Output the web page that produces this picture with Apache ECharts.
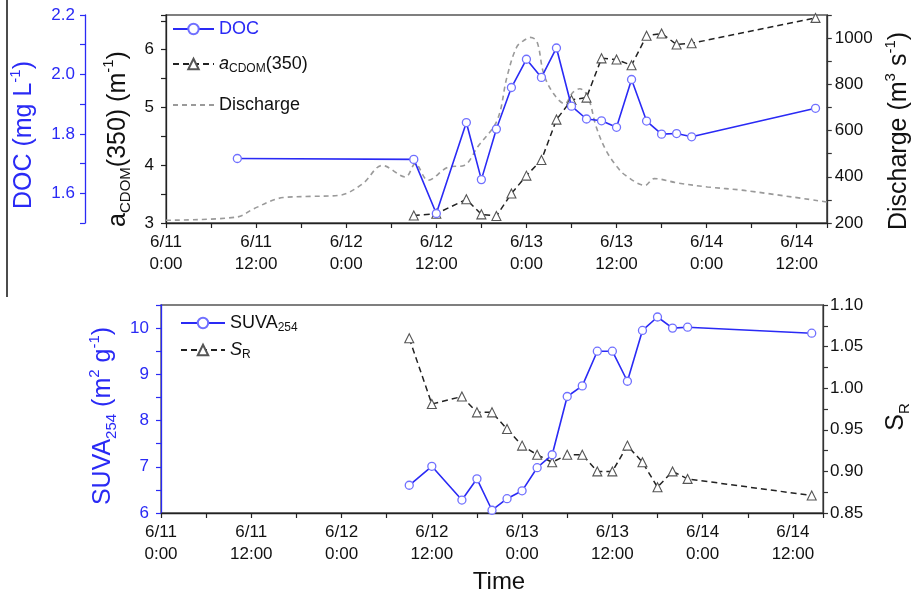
<!DOCTYPE html>
<html><head><meta charset="utf-8">
<script src="https://cdn.jsdelivr.net/npm/echarts@6/dist/echarts.min.js"></script>
<style>html,body{margin:0;padding:0;background:#fff}#c{width:920px;height:597px}</style>
</head><body><div id="c"></div>
<script>
// Time in hours since 6/11 0:00
const docHours = [9.5, 33, 36, 40, 42, 44, 46, 48, 50, 52, 54, 56, 58, 60, 62, 64, 66, 68, 70, 86.5];
const docValues = [1.717, 1.714, 1.532, 1.838, 1.646, 1.816, 1.956, 2.051, 1.990, 2.089, 1.893, 1.850, 1.844, 1.822, 1.983, 1.843, 1.799, 1.801, 1.790, 1.886];
const sampleHours = [33, 36, 40, 42, 44, 46, 48, 50, 52, 54, 56, 58, 60, 62, 64, 66, 68, 70, 86.5];
const acdomValues = [3.13, 3.16, 3.41, 3.15, 3.12, 3.51, 3.82, 4.09, 4.79, 5.13, 5.17, 5.85, 5.83, 5.73, 6.24, 6.28, 6.09, 6.11, 6.55];
const dischargeHours = [0, 9.5, 11.7, 15.6, 19.2, 23.1, 26.2, 28.8, 31.9, 33.2, 34.9, 37.6, 39.7, 41.5, 44.1, 45.4, 46.7, 47.8, 48.5, 49.4, 50.3, 51.6, 53.1, 54.2, 55.1, 56.2, 57.3, 58.6, 60.1, 61.2, 63.8, 65, 68.2, 72.1, 77, 88];
const dischargeValues = [212, 226, 262, 310, 315, 320, 370, 449, 399, 457, 385, 442, 449, 529, 644, 831, 961, 993, 1003, 985, 846, 760, 716, 766, 781, 745, 615, 514, 442, 406, 363, 392, 373, 356, 341, 291];
const suvaHours = [33, 36, 40, 42, 44, 46, 48, 50, 52, 54, 56, 58, 60, 62, 64, 66, 68, 70, 86.5];
const suvaValues = [6.60, 7.01, 6.28, 6.74, 6.06, 6.31, 6.48, 6.98, 7.26, 8.52, 8.75, 9.50, 9.50, 8.85, 9.95, 10.24, 10.00, 10.02, 9.89];
const srValues = [1.060, 0.981, 0.990, 0.971, 0.971, 0.951, 0.931, 0.920, 0.911, 0.920, 0.920, 0.900, 0.900, 0.931, 0.911, 0.881, 0.900, 0.891, 0.871];

const BLUE = '#2a2af5';
const BLUE_MK = '#7070ff';
const FONT = 'Liberation Sans, Arial, sans-serif';
const zip = (a, b) => a.map((v, i) => [v, b[i]]);

function xLabel(v) {
  const r = Math.round(v);
  if (r % 12 !== 0 || r > 84) return '';
  return '6/' + (11 + Math.floor(r / 24)) + '\n' + (r % 24) + ':00';
}
const nameRich = {
  t: { fontSize: 25, lineHeight: 32, fontFamily: FONT },
  sup: { fontSize: 15, lineHeight: 15, verticalAlign: 'top', fontFamily: FONT },
  sub: { fontSize: 15, lineHeight: 15, verticalAlign: 'bottom', fontFamily: FONT }
};
const legRich = {
  t: { fontSize: 18, lineHeight: 22, fontFamily: FONT },
  i: { fontSize: 18, lineHeight: 22, fontStyle: 'italic', fontFamily: FONT },
  sub: { fontSize: 12, lineHeight: 12, verticalAlign: 'bottom', fontFamily: FONT }
};
const legendNames = {
  'DOC': '{t|DOC}',
  'aCDOM': '{i|a}{sub|CDOM}{t|(350)}',
  'Discharge': '{t|Discharge}',
  'SUVA': '{t|SUVA}{sub|254}',
  'SR': '{i|S}{sub|R}'
};
function makeLegend(item, left, top, color, w) {
  return {
    data: [item], left: left, top: top, padding: 0, orient: 'vertical',
    itemWidth: w, itemHeight: 13, selectedMode: false,
    formatter: n => legendNames[n],
    textStyle: { color: color, fontSize: 18, fontFamily: FONT, rich: legRich }
  };
}
const axisCommon = (color) => ({
  type: 'value',
  axisLine: { show: true, lineStyle: { color: color, width: 1.3 } },
  axisTick: { show: true, length: 5, lineStyle: { color: color, width: 1.2 } },
  splitLine: { show: false },
  axisLabel: { color: color, fontSize: 17, fontFamily: FONT }
});

const chart = echarts.init(document.getElementById('c'), null, { renderer: 'canvas' });
chart.setOption({
  animation: false,
  backgroundColor: '#fff',
  graphic: [
    { type: 'line', shape: { x1: 7, y1: 0, x2: 7, y2: 297 }, style: { stroke: '#111', lineWidth: 1.5 } },
    { type: 'text', x: 499, y: 582, style: { text: 'Time', fontSize: 24, fontFamily: FONT, fill: '#111', align: 'center', verticalAlign: 'middle' } }
  ],
  grid: [
    { left: 161, top: 15, width: 670, height: 208, show: true, borderColor: '#555', borderWidth: 1.3, backgroundColor: 'transparent' },
    { left: 161, top: 305, width: 670, height: 208, show: true, borderColor: '#555', borderWidth: 1.3, backgroundColor: 'transparent' }
  ],
  legend: [
    makeLegend('DOC', 172, 20, BLUE, 41),
    makeLegend('aCDOM', 172, 55, '#111', 41),
    makeLegend({ name: 'Discharge', itemStyle: { color: 'rgba(0,0,0,0)', borderColor: 'rgba(0,0,0,0)', borderWidth: 0 } }, 172, 96, '#111', 41),
    makeLegend('SUVA', 180, 314, '#111', 44),
    makeLegend('SR', 180, 341, '#111', 44)
  ],
  xAxis: [0, 1].map(g => Object.assign(axisCommon('#222'), {
    gridIndex: g, min: 0, max: 88, interval: 6,
    axisLabel: { color: '#111', fontSize: 17, fontFamily: FONT, lineHeight: 22, margin: 8, formatter: xLabel }
  })),
  yAxis: [
    Object.assign(axisCommon('#222'), {
      gridIndex: 0, position: 'left', min: 3, max: 6.6, interval: 0.5,
      axisLabel: { color: '#111', fontSize: 17, fontFamily: FONT, margin: 12, formatter: v => (Math.abs(v - Math.round(v)) < 1e-6 ? String(Math.round(v)) : '') },
      name: '{t|a}{sub|CDOM}{t|(350) (m}{sup|-1}{t|)}', nameLocation: 'middle', nameGap: 30,
      nameTextStyle: { color: '#111', rich: nameRich, padding: [0, 40, 0, 0] }
    }),
    Object.assign(axisCommon('#333'), {
      gridIndex: 0, position: 'right', min: 200, max: 1100, interval: 100,
      axisLabel: { color: '#111', fontSize: 17, fontFamily: FONT, margin: 8, formatter: v => (Math.round(v) % 200 === 0 ? String(Math.round(v)) : '') },
      name: '{t|Discharge (m}{sup|3}{t| s}{sup|-1}{t|)}', nameLocation: 'middle', nameGap: 56, nameRotate: 90,
      nameTextStyle: { color: '#111', rich: nameRich, padding: [0, 24, 0, 0] }
    }),
    Object.assign(axisCommon(BLUE), {
      gridIndex: 0, position: 'left', offset: 81, min: 1.5, max: 2.2, interval: 0.1,
      axisLabel: { color: BLUE, fontSize: 17, fontFamily: FONT, margin: 10, formatter: v => (Math.round(v * 10) % 2 === 0 && v > 1.55 ? v.toFixed(1) : '') },
      name: '{t|DOC (mg L}{sup|-1}{t|)}', nameLocation: 'middle', nameGap: 45,
      nameTextStyle: { color: BLUE, rich: nameRich, padding: [0, 32, 0, 0] }
    }),
    Object.assign(axisCommon(BLUE), {
      gridIndex: 1, position: 'left', min: 6, max: 10.5, interval: 0.5,
      axisLabel: { color: BLUE, fontSize: 17, fontFamily: FONT, margin: 12, formatter: v => (Math.abs(v - Math.round(v)) < 1e-6 ? String(Math.round(v)) : '') },
      name: '{t|SUVA}{sub|254}{t| (m}{sup|2}{t| g}{sup|-1}{t|)}', nameLocation: 'middle', nameGap: 40,
      nameTextStyle: { color: BLUE, rich: nameRich, padding: [0, 14, 0, 0] }
    }),
    Object.assign(axisCommon('#333'), {
      gridIndex: 1, position: 'right', min: 0.85, max: 1.10, interval: 0.025,
      axisLabel: { color: '#111', fontSize: 17, fontFamily: FONT, margin: 7, formatter: v => (Math.round(v * 1000) % 50 === 0 ? v.toFixed(2) : '') },
      name: '{t|S}{sub|R}', nameLocation: 'middle', nameGap: 57, nameRotate: 90,
      nameTextStyle: { color: '#111', rich: nameRich, padding: [0, 16, 0, 0] }
    })
  ],
  series: [
    { name: 'Discharge', type: 'line', xAxisIndex: 0, yAxisIndex: 1, data: zip(dischargeHours, dischargeValues),
      smooth: 0.35, symbol: 'none', lineStyle: { color: '#9a9a9a', width: 1.6, type: [5, 4] }, itemStyle: { color: '#9a9a9a' }, z: 2 },
    { name: 'aCDOM', type: 'line', xAxisIndex: 0, yAxisIndex: 0, data: zip(sampleHours, acdomValues),
      symbol: 'triangle', symbolSize: 9, lineStyle: { color: '#222', width: 1.5, type: [6, 4] },
      itemStyle: { color: '#fff', borderColor: '#555', borderWidth: 1.1 }, z: 3 },
    { name: 'DOC', type: 'line', xAxisIndex: 0, yAxisIndex: 2, data: zip(docHours, docValues),
      symbol: 'circle', symbolSize: 8, lineStyle: { color: BLUE, width: 1.6 },
      itemStyle: { color: '#fff', borderColor: BLUE_MK, borderWidth: 1.3 }, z: 4 },
    { name: 'SUVA', type: 'line', xAxisIndex: 1, yAxisIndex: 3, data: zip(suvaHours, suvaValues),
      symbol: 'circle', symbolSize: 8, lineStyle: { color: BLUE, width: 1.6 },
      itemStyle: { color: '#fff', borderColor: BLUE_MK, borderWidth: 1.3 }, z: 4 },
    { name: 'SR', type: 'line', xAxisIndex: 1, yAxisIndex: 4, data: zip(sampleHours, srValues),
      symbol: 'triangle', symbolSize: 9, lineStyle: { color: '#222', width: 1.5, type: [6, 4] },
      itemStyle: { color: '#fff', borderColor: '#555', borderWidth: 1.1 }, z: 3 }
  ]
});
</script></body></html>
